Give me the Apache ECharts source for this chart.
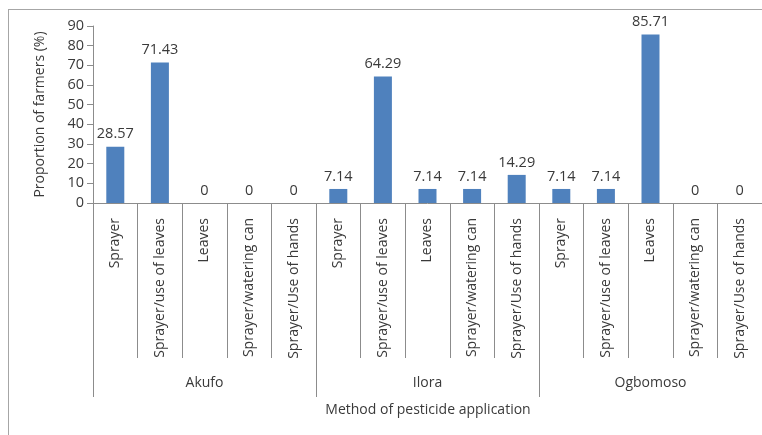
<!DOCTYPE html>
<html>
<head>
<meta charset="utf-8">
<script src="https://cdn.jsdelivr.net/npm/echarts@6/dist/echarts.min.js"></script>
<style>
  html, body { margin: 0; padding: 0; background: #fff; }
  #chart { width: 762px; height: 435px; }
</style>
</head>
<body>
<div id="chart"></div>
<script>
// Pesticide application methods, share of farmers per town
const towns = ['Akufo', 'Ilora', 'Ogbomoso'];
const methods = ['Sprayer', 'Sprayer/use of leaves', 'Leaves', 'Sprayer/watering can', 'Sprayer/Use of hands'];
const akufo = [28.57, 71.43, 0, 0, 0];
const ilora = [7.14, 64.29, 7.14, 7.14, 14.29];
const ogbomoso = [7.14, 7.14, 85.71, 0, 0];
const yTicks = { min: 0, max: 90, step: 10 };

const categories = [];
const values = [];
[akufo, ilora, ogbomoso].forEach(function (arr) {
  methods.forEach(function (m, i) { categories.push(m); values.push(arr[i]); });
});

const FONT = 'Open Sans';
const TXT = '#3a3a3a';
const AX = '#8c8c8c';

const chart = echarts.init(document.getElementById('chart'), null, { renderer: 'canvas' });
chart.setOption({
  animation: false,
  textStyle: { fontFamily: FONT },
  grid: { left: 93, right: 0, top: 26, bottom: 232, containLabel: false },
  xAxis: [
    {
      type: 'category',
      data: categories,
      position: 'bottom',
      axisLine: { show: true, lineStyle: { color: AX, width: 1 } },
      axisTick: { show: true, length: 155, alignWithLabel: false, lineStyle: { color: AX } },
      axisLabel: { rotate: 90, margin: 15, fontSize: 14, color: TXT, fontFamily: FONT, interval: 0 }
    },
    {
      type: 'category',
      data: towns,
      position: 'bottom',
      axisLine: { show: false },
      axisTick: { show: true, length: 194, lineStyle: { color: AX } },
      axisLabel: { margin: 173, fontSize: 14, color: TXT, fontFamily: FONT, interval: 0 }
    }
  ],
  yAxis: {
    type: 'value',
    min: yTicks.min,
    max: yTicks.max,
    interval: yTicks.step,
    name: 'Proportion of farmers (%)',
    nameLocation: 'middle',
    nameRotate: 90,
    nameGap: 46,
    nameTextStyle: { fontSize: 14, color: TXT, fontFamily: FONT },
    axisLine: { show: true, lineStyle: { color: AX } },
    axisTick: { show: true, length: 6, lineStyle: { color: AX } },
    axisLabel: { margin: 9, fontSize: 14.5, color: TXT, fontFamily: FONT },
    splitLine: { show: false }
  },
  series: [{
    type: 'bar',
    xAxisIndex: 0,
    data: values,
    barWidth: 18,
    itemStyle: { color: '#4f81bd' },
    label: { show: true, position: 'top', distance: 5, fontSize: 14.5, color: TXT, fontFamily: FONT }
  }],
  graphic: [
    { type: 'line', shape: { x1: 8.5, y1: 9, x2: 8.5, y2: 435 }, style: { stroke: '#a6a6a6', lineWidth: 1 }, silent: true },
    { type: 'line', shape: { x1: 8, y1: 9.5, x2: 762, y2: 9.5 }, style: { stroke: '#a6a6a6', lineWidth: 1 }, silent: true },
    { type: 'text', x: 428, y: 410, style: { text: 'Method of pesticide application', fill: TXT, font: '14px "Open Sans"', textAlign: 'center', textVerticalAlign: 'middle' }, silent: true }
  ]
});
</script>
</body>
</html>
